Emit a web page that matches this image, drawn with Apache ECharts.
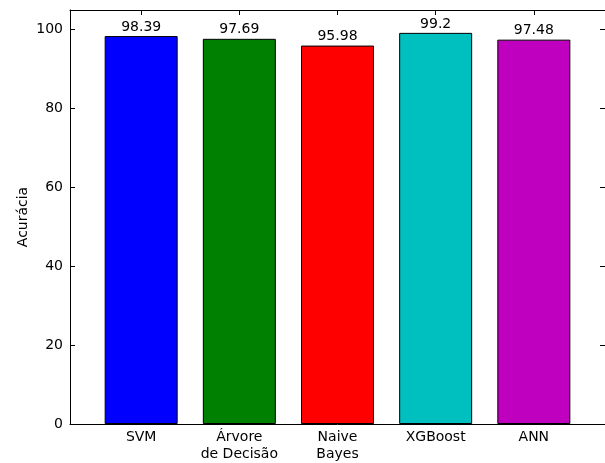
<!DOCTYPE html>
<html>
<head>
<meta charset="utf-8">
<script src="https://cdn.jsdelivr.net/npm/echarts@6/dist/echarts.min.js"></script>
<style>
  html, body { margin: 0; padding: 0; background: #fff; }
  #chart { width: 605px; height: 463px; }
</style>
</head>
<body>
<div id="chart"></div>
<script>
// Model names and their accuracy scores
const models = ['SVM', 'Árvore\nde Decisão', 'Naive\nBayes', 'XGBoost', 'ANN'];
const accuracy = [98.39, 97.69, 95.98, 99.2, 97.48];
const barColors = ['#0000ff', '#008000', '#ff0000', '#00bfbf', '#bf00bf'];
const yTicks = [0, 20, 40, 60, 80, 100];

const font = 'DejaVu Sans';
const positions = models.map((_, i) => i);

const chart = echarts.init(document.getElementById('chart'));

const spine = { show: true, onZero: false, lineStyle: { color: '#000', width: 1 } };

chart.setOption({
  animation: false,
  grid: { left: 70, right: -2, top: 10, bottom: 38 },
  xAxis: [
    {
      type: 'value', position: 'bottom',
      min: -0.725, max: 4.725,
      axisLine: spine,
      splitLine: { show: false },
      axisTick: { show: true, inside: true, length: 5, customValues: positions, lineStyle: { color: '#000' } },
      axisLabel: {
        customValues: positions,
        formatter: v => models[Math.round(v)] || '',
        fontFamily: font, fontSize: 14, color: '#000', margin: 5, lineHeight: 17
      }
    },
    {
      type: 'value', position: 'top',
      min: -0.725, max: 4.725,
      axisLine: spine,
      splitLine: { show: false },
      axisTick: { show: true, inside: true, length: 5, customValues: positions, lineStyle: { color: '#000' } },
      axisLabel: { show: false }
    }
  ],
  yAxis: [
    {
      type: 'value', position: 'left',
      min: 0, max: 105, interval: 20,
      name: 'Acurácia', nameLocation: 'middle', nameGap: 40, nameMoveOverlap: false,
      nameTextStyle: { fontFamily: font, fontSize: 14, color: '#000' },
      axisLine: spine,
      splitLine: { show: false },
      axisTick: { show: true, inside: true, length: 5, customValues: yTicks, lineStyle: { color: '#000' } },
      axisLabel: { customValues: yTicks, fontFamily: font, fontSize: 14, color: '#000', margin: 7 }
    },
    {
      type: 'value', position: 'right',
      min: 0, max: 105, interval: 20,
      axisLine: spine,
      splitLine: { show: false },
      axisTick: { show: true, inside: true, length: 5, customValues: yTicks, lineStyle: { color: '#000' } },
      axisLabel: { show: false }
    }
  ],
  series: [{
    type: 'bar',
    xAxisIndex: 0, yAxisIndex: 0,
    barWidth: 73,
    data: accuracy.map((v, i) => ({
      value: [positions[i], v],
      itemStyle: { color: barColors[i], borderColor: '#000', borderWidth: 1 }
    })),
    label: {
      show: true, position: 'top', distance: 2,
      formatter: p => String(p.value[1]),
      fontFamily: font, fontSize: 14, color: '#000'
    }
  }]
});
</script>
</body>
</html>
